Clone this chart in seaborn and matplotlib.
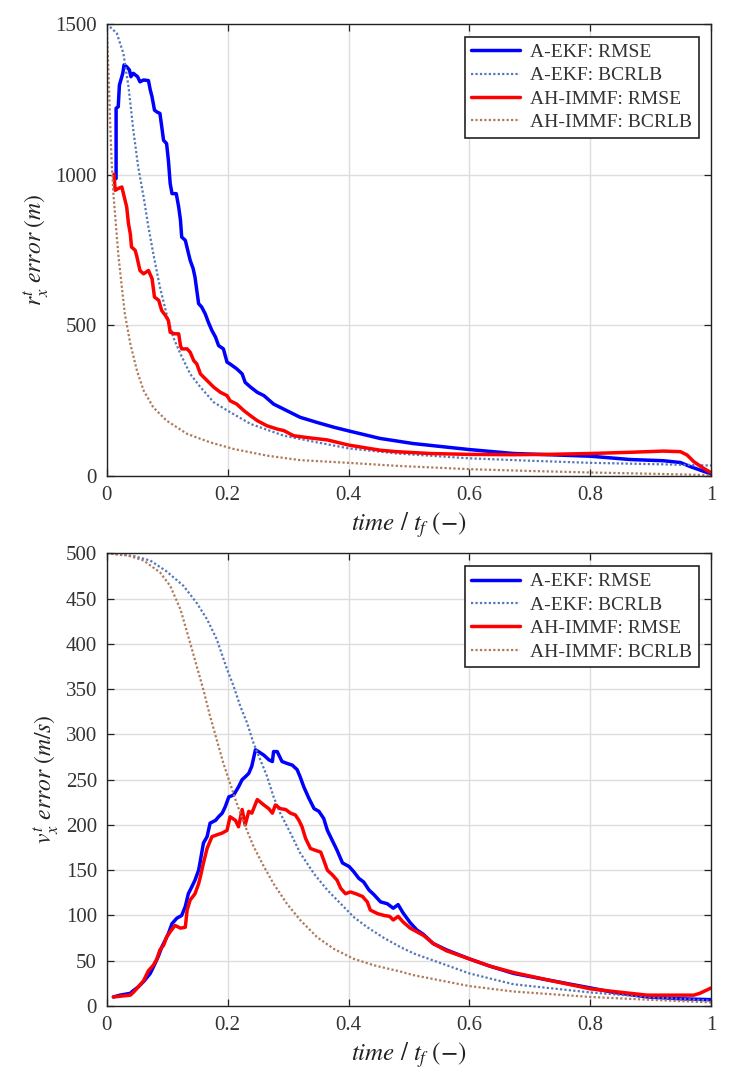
import numpy as np
import pandas as pd
import matplotlib
matplotlib.use("Agg")
import matplotlib.pyplot as plt
import seaborn as sns
from matplotlib.ticker import FuncFormatter

# ---------------- data: position error (top) ----------------
pos_ekf_rmse_t = [0.0155, 0.0155, 0.019, 0.021, 0.0265, 0.0287, 0.033, 0.0376, 0.040, 0.044, 0.051,
                  0.055, 0.061, 0.069, 0.072, 0.075, 0.079, 0.083, 0.088, 0.091, 0.094, 0.099,
                  0.102, 0.105, 0.108, 0.115, 0.119, 0.122, 0.124, 0.130, 0.134, 0.138, 0.143,
                  0.146, 0.152, 0.157, 0.163, 0.168, 0.174, 0.180, 0.185, 0.193, 0.199, 0.204,
                  0.215, 0.224, 0.229, 0.238, 0.249, 0.260, 0.276, 0.287, 0.298, 0.320, 0.348,
                  0.376, 0.400, 0.452, 0.507, 0.600, 0.673, 0.800, 0.866, 0.921, 0.949, 0.966, 1.0]
pos_ekf_rmse = [987, 1220, 1225, 1297, 1336, 1364, 1358, 1347, 1325, 1336, 1325,
                1308, 1314, 1312, 1281, 1258, 1214, 1208, 1203, 1159, 1114, 1103,
                1048, 970, 937, 937, 893, 849, 793, 782, 749, 716, 688,
                660, 572, 561, 538, 511, 483, 461, 433, 422, 378, 372,
                356, 339, 311, 295, 278, 267, 239, 228, 217, 195, 178,
                162, 150, 125, 108, 88, 75, 66, 55, 51, 45, 31, 7]

pos_ekf_bcrlb_t = [0.0, 0.0166, 0.0276, 0.036, 0.044, 0.052, 0.061, 0.069, 0.077, 0.088, 0.099,
                   0.110, 0.122, 0.138, 0.155, 0.177, 0.200, 0.238, 0.293, 0.348, 0.400,
                   0.480, 0.600, 0.700, 0.800, 0.921, 1.0]
pos_ekf_bcrlb = [1500, 1469, 1402, 1292, 1148, 1026, 926, 826, 738, 627, 538,
                 461, 405, 339, 295, 245, 217, 173, 134, 112, 92,
                 75, 59, 51, 44, 39, 35]

pos_imm_rmse_t = [0.012, 0.014, 0.019, 0.025, 0.029, 0.033, 0.036, 0.039, 0.041, 0.047, 0.050,
                  0.055, 0.061, 0.069, 0.075, 0.079, 0.086, 0.091, 0.097, 0.102, 0.105,
                  0.113, 0.119, 0.122, 0.124, 0.133, 0.138, 0.144, 0.149, 0.155, 0.166,
                  0.177, 0.188, 0.199, 0.204, 0.215, 0.227, 0.238, 0.249, 0.265, 0.282,
                  0.293, 0.309, 0.331, 0.365, 0.400, 0.452, 0.480, 0.535, 0.600, 0.673,
                  0.727, 0.800, 0.866, 0.921, 0.949, 0.960, 0.971, 0.988, 1.0]
pos_imm_rmse = [1001, 948, 954, 959, 926, 893, 837, 804, 760, 749, 727,
                682, 671, 682, 655, 594, 583, 549, 533, 516, 477,
                472, 472, 433, 422, 422, 411, 383, 372, 339, 317,
                295, 278, 267, 250, 239, 217, 200, 184, 167, 156,
                151, 134, 128, 120, 103, 86, 81, 75, 72, 71,
                72, 75, 79, 83, 81, 70, 48, 25, 11]

pos_imm_bcrlb_t = [0.0, 0.0028, 0.0055, 0.008, 0.011, 0.0155, 0.019, 0.025, 0.030, 0.039, 0.050,
                   0.061, 0.077, 0.099, 0.133, 0.171, 0.210, 0.265, 0.320, 0.400, 0.480,
                   0.600, 0.700, 0.800, 0.921, 1.0]
pos_imm_bcrlb = [1500, 1347, 1181, 1048, 937, 826, 738, 627, 538, 439, 350,
                 284, 228, 184, 140, 112, 90, 68, 53, 44, 34,
                 23, 17, 12, 7, 3]

# ---------------- data: velocity error (bottom) ----------------
vel_ekf_rmse_t = [0.011, 0.022, 0.039, 0.044, 0.052, 0.061, 0.072, 0.080, 0.086, 0.091, 0.097,
                  0.102, 0.108, 0.116, 0.124, 0.130, 0.135, 0.141, 0.146, 0.152, 0.155,
                  0.160, 0.166, 0.171, 0.180, 0.185, 0.191, 0.196, 0.202, 0.210, 0.218,
                  0.224, 0.229, 0.235, 0.240, 0.246, 0.251, 0.260, 0.268, 0.274, 0.276,
                  0.282, 0.290, 0.298, 0.307, 0.315, 0.320, 0.326, 0.334, 0.343, 0.351,
                  0.359, 0.365, 0.373, 0.381, 0.390, 0.401, 0.409, 0.417, 0.425, 0.434,
                  0.442, 0.453, 0.464, 0.474, 0.482, 0.490, 0.502, 0.513, 0.524, 0.540,
                  0.562, 0.600, 0.634, 0.673, 0.728, 0.800, 0.839, 0.894, 0.949, 1.0]
vel_ekf_rmse = [10, 12, 14, 17, 21, 27, 36, 47, 56, 65, 73,
                80, 91, 97, 100, 110, 124, 132, 139, 150, 161,
                180, 187, 202, 205, 209, 213, 220, 231, 233, 242,
                250, 253, 257, 265, 283, 281, 277, 272, 270, 281,
                281, 270, 268, 266, 261, 253, 242, 230, 218, 215,
                207, 194, 183, 172, 158, 154, 148, 141, 137, 128,
                123, 115, 113, 108, 112, 103, 92, 84, 79, 69,
                62, 52, 44, 36, 29, 20, 15, 10, 8, 7]

vel_ekf_bcrlb_t = [0.0, 0.044, 0.072, 0.099, 0.127, 0.149, 0.166, 0.182, 0.199, 0.210, 0.221,
                   0.232, 0.243, 0.254, 0.265, 0.276, 0.287, 0.304, 0.320, 0.343, 0.365,
                   0.387, 0.409, 0.431, 0.459, 0.486, 0.508, 0.600, 0.673, 0.800, 0.894, 1.0]
vel_ekf_bcrlb = [500, 497, 492, 480, 464, 445, 427, 405, 372, 353, 331,
                 313, 290, 272, 254, 231, 213, 191, 169, 146, 128,
                 113, 98, 87, 75, 65, 58, 36, 24, 15, 10, 6]

vel_imm_rmse_t = [0.011, 0.039, 0.044, 0.052, 0.061, 0.069, 0.077, 0.083, 0.088, 0.094, 0.099,
                  0.105, 0.113, 0.122, 0.130, 0.133, 0.138, 0.146, 0.152, 0.155, 0.160,
                  0.166, 0.174, 0.182, 0.191, 0.199, 0.204, 0.213, 0.218, 0.224, 0.229,
                  0.235, 0.240, 0.249, 0.260, 0.268, 0.274, 0.279, 0.287, 0.296, 0.304,
                  0.312, 0.318, 0.323, 0.329, 0.337, 0.345, 0.354, 0.359, 0.365, 0.373,
                  0.381, 0.387, 0.395, 0.403, 0.412, 0.423, 0.431, 0.436, 0.448, 0.459,
                  0.468, 0.474, 0.482, 0.490, 0.502, 0.513, 0.524, 0.540, 0.562, 0.600,
                  0.634, 0.673, 0.728, 0.800, 0.839, 0.894, 0.949, 0.971, 0.981, 1.0]
vel_imm_rmse = [10, 12, 15, 21, 28, 39, 45, 52, 62, 67, 76,
                82, 89, 86, 87, 106, 117, 124, 135, 143, 158,
                174, 187, 189, 191, 194, 209, 205, 198, 217, 200,
                215, 213, 228, 222, 218, 213, 222, 218, 217, 213,
                211, 205, 198, 185, 174, 172, 170, 161, 150, 145,
                139, 130, 124, 126, 124, 121, 115, 106, 102, 100,
                99, 95, 99, 93, 86, 82, 78, 69, 61, 52,
                44, 37, 29, 19, 16, 12, 12, 12, 14, 20]

vel_imm_bcrlb_t = [0.0, 0.033, 0.061, 0.088, 0.105, 0.122, 0.135, 0.149, 0.160, 0.171, 0.182,
                   0.193, 0.204, 0.215, 0.227, 0.243, 0.260, 0.276, 0.298, 0.320, 0.348,
                   0.376, 0.409, 0.442, 0.486, 0.508, 0.600, 0.673, 0.800, 0.894, 1.0]
vel_imm_bcrlb = [500, 498, 492, 479, 464, 438, 408, 375, 349, 320, 294,
                 268, 246, 224, 202, 176, 154, 135, 113, 95, 76,
                 63, 52, 45, 38, 34, 22, 16, 10, 7, 4]

labels = ["A-EKF: RMSE", "A-EKF: BCRLB", "AH-IMMF: RMSE", "AH-IMMF: BCRLB"]
x_ticks = [0, 0.2, 0.4, 0.6, 0.8, 1.0]
pos_y_ticks = [0, 500, 1000, 1500]
vel_y_ticks = list(range(0, 501, 50))

# ---------------- style ----------------
sns.set_theme(style="whitegrid")
plt.rcParams["font.family"] = ["Liberation Serif", "DejaVu Serif"]
plt.rcParams["mathtext.fontset"] = "stix"

blue = "#0000FF"
blue_dot = "#5577BB"
red = "#FF0000"
brown_dot = "#B07A5A"
dot = (0, (1.0, 1.0))

fig = plt.figure(figsize=(7.31, 10.87), dpi=100)
ax1 = fig.add_axes([0.146, 0.562, 0.827, 0.416])
ax2 = fig.add_axes([0.146, 0.0745, 0.827, 0.4165])


def draw(ax, series):
    for (t, v, color, lw, ls), lab in zip(series, labels):
        sns.lineplot(x=t, y=v, ax=ax, color=color, linewidth=lw, linestyle=ls,
                     label=lab, sort=False, estimator=None)


draw(ax1, [
    (pos_ekf_rmse_t, pos_ekf_rmse, blue, 2.5, "-"),
    (pos_ekf_bcrlb_t, pos_ekf_bcrlb, blue_dot, 1.6, dot),
    (pos_imm_rmse_t, pos_imm_rmse, red, 2.5, "-"),
    (pos_imm_bcrlb_t, pos_imm_bcrlb, brown_dot, 1.6, dot),
])
draw(ax2, [
    (vel_ekf_rmse_t, vel_ekf_rmse, blue, 2.5, "-"),
    (vel_ekf_bcrlb_t, vel_ekf_bcrlb, blue_dot, 1.6, dot),
    (vel_imm_rmse_t, vel_imm_rmse, red, 2.5, "-"),
    (vel_imm_bcrlb_t, vel_imm_bcrlb, brown_dot, 1.6, dot),
])

fmt = FuncFormatter(lambda v, p: "%g" % v)

for ax, yt, ylim, ylab in [
    (ax1, pos_y_ticks, (0, 1500), r"$r^t_x\ error\ (m)$"),
    (ax2, vel_y_ticks, (0, 500), r"$v^t_x\ error\ (m/s)$"),
]:
    ax.set_xlim(0, 1)
    ax.set_ylim(*ylim)
    ax.set_xticks(x_ticks)
    ax.set_yticks(yt)
    ax.xaxis.set_major_formatter(fmt)
    ax.set_facecolor("white")
    ax.grid(True, color="#DDDDDD", linewidth=1.0)
    for s in ax.spines.values():
        s.set_color("#222222")
        s.set_linewidth(1.0)
    ax.tick_params(direction="in", length=5, width=0.9, colors="#222222",
                   labelcolor="#333333", labelsize=15, top=True, right=True,
                   bottom=True, left=True, pad=7)
    ax.set_xlabel(r"$time\ /\ t_f\ (-)$", fontsize=18, color="#222222", labelpad=4)
    ax.set_ylabel(ylab, fontsize=17, color="#222222", labelpad=3)
    leg = ax.legend(loc="upper right", fontsize=14, frameon=True, fancybox=False,
                    edgecolor="#222222", framealpha=1, handlelength=2.5,
                    labelspacing=0.3, borderaxespad=0.65, borderpad=0.35,
                    handletextpad=0.5)
    leg.get_frame().set_linewidth(1.2)
    for txt in leg.get_texts():
        txt.set_color("#333333")

fig.savefig("out.png", dpi=100)
